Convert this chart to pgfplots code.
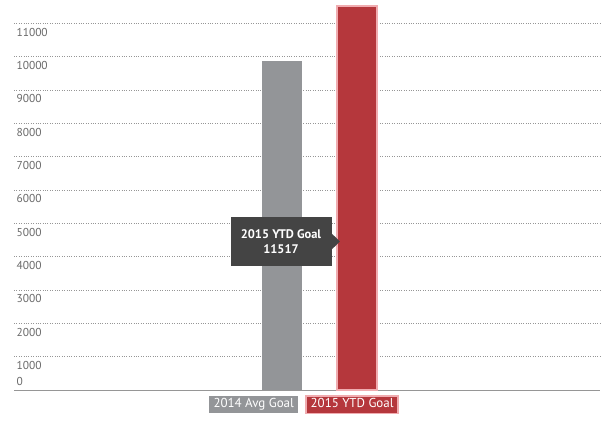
\documentclass[border=0pt]{standalone}
\usepackage{fontspec}
\setmainfont{PT Sans}
\usepackage{pgfplots}
\pgfplotsset{compat=1.18}
\definecolor{barGray}{RGB}{147,149,152}
\definecolor{barRed}{RGB}{181,55,60}
\definecolor{glow}{RGB}{240,172,176}
\definecolor{tipgray}{RGB}{68,68,68}
\definecolor{gridgray}{RGB}{150,150,150}
\definecolor{labgray}{RGB}{105,105,105}
\begin{document}
\begin{tikzpicture}
\begin{axis}[
  scale only axis, width=586bp, height=390bp,
  xmin=-3.573, xmax=4.24, ymin=0, ymax=11700,
  axis lines*=left,
  y axis line style={draw=none},
  x axis line style={-, color=gridgray, line width=1bp},
  xtick=\empty,
  ytick={1000,2000,...,11000},
  scaled y ticks=false,
  extra y ticks={0},
  extra y tick style={grid=none, yticklabel style={anchor=south west, yshift=2bp}},
  ymajorgrids,
  major grid style={dotted, color=gridgray, line width=0.8bp},
  major tick length=0pt,
  yticklabel style={anchor=north west, xshift=-1bp, yshift=-1bp, font=\fontsize{11.5}{12}\selectfont, text=labgray},
  /pgf/number format/assume math mode=true,
  /pgf/number format/1000 sep={},
  clip=false,
  legend image code/.code={},
  legend style={at={(axis cs:0.293,0)}, anchor=north, yshift=-5bp, draw=none, fill=none,
    legend columns=2, column sep=0pt, inner sep=0pt, outer sep=0pt,
    /tikz/every even column/.append style={column sep=7bp},
    nodes={inner xsep=4.5bp, inner ysep=0bp, text height=12bp, text depth=5.5bp,
      font=\fontsize{13}{14}\selectfont, text=white}},
]
\addplot[ybar, bar width=40bp, bar shift=0pt, fill=barGray, draw=none] coordinates {(0,9870)};
\addlegendentry[fill=barGray]{2014 Avg Goal}
\addplot[ybar, bar width=40bp, bar shift=0pt, fill=barRed, draw=glow, line width=2bp] coordinates {(1,11517)};
\addlegendentry[fill=barRed, draw=glow, line width=1.5bp]{2015 YTD Goal}
\node[fill=tipgray, text=white, font=\bfseries\fontsize{12.5}{14.4}\selectfont, align=center,
  minimum width=101bp, minimum height=48.5bp, inner sep=0pt] at (axis cs:-0.013,4455) {2015 YTD Goal\\11517};
\fill[tipgray] (axis cs:0.655,4710) -- (axis cs:0.773,4455) -- (axis cs:0.655,4200) -- cycle;
\end{axis}
\pgfresetboundingbox
\useasboundingbox ([shift={(-14bp,-43bp)}]current axis.south west) rectangle ([shift={(8bp,0bp)}]current axis.north east);
\end{tikzpicture}
\end{document}
